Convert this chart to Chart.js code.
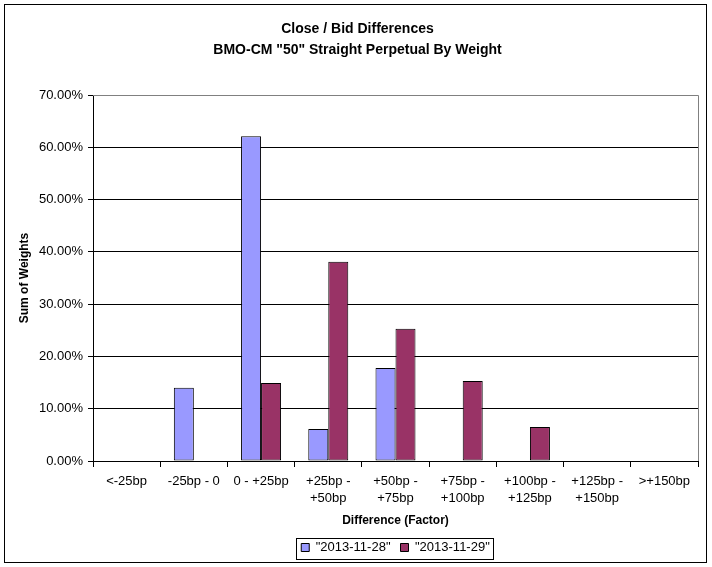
<!DOCTYPE html>
<html>
<head>
<meta charset="utf-8">
<script src="https://cdn.jsdelivr.net/npm/chart.js@4/dist/chart.umd.min.js"></script>
<style>
  html, body { margin: 0; padding: 0; background: #fff; }
  #wrap { width: 712px; height: 567px; }
</style>
</head>
<body>
<div id="wrap"><canvas id="c" width="712" height="567"></canvas></div>
<script>
const categories = [
  ["<-25bp"], ["-25bp - 0"], ["0 - +25bp"], ["+25bp -", "+50bp"], ["+50bp -", "+75bp"],
  ["+75bp -", "+100bp"], ["+100bp -", "+125bp"], ["+125bp -", "+150bp"], [">+150bp"]
];
const seriesNames = ['"2013-11-28"', '"2013-11-29"'];
const values1128 = [0, 14.0, 62.1, 6.1, 17.8, 0, 0, 0, 0];
const values1129 = [0, 0, 14.9, 38.1, 25.3, 15.3, 6.5, 0, 0];
const yTicks = [0, 10, 20, 30, 40, 50, 60, 70];

const FONT = "'Liberation Sans', Arial, sans-serif";

const frame = {
  id: 'frame',
  beforeDraw(chart) {
    const ctx = chart.ctx;
    ctx.save();
    ctx.fillStyle = '#fff';
    ctx.fillRect(0, 0, chart.width, chart.height);
    ctx.restore();
    const lg = chart.legend, a = chart.chartArea;
    if (lg && !lg._shifted) {
      const shift = Math.round((a.left + a.right) / 2 - (lg.left + lg.right) / 2);
      lg.left += shift; lg.right += shift;
      (lg.legendHitBoxes || []).forEach(h => { h.left += shift; });
      lg._shifted = true;
    }
  },
  beforeDatasetsDraw(chart) {
    const a = chart.chartArea, ctx = chart.ctx;
    ctx.save();
    ctx.strokeStyle = '#808080';
    ctx.lineWidth = 1;
    ctx.beginPath();
    ctx.moveTo(a.left, Math.round(a.top) + 0.5);
    ctx.lineTo(Math.round(a.right) + 0.5, Math.round(a.top) + 0.5);
    ctx.lineTo(Math.round(a.right) + 0.5, a.bottom);
    ctx.stroke();
    ctx.restore();
  },
  afterDraw(chart) {
    const ctx = chart.ctx;
    ctx.save();
    ctx.strokeStyle = '#000';
    ctx.lineWidth = 1;
    ctx.strokeRect(4.5, 4.5, 702, 558);
    const lg = chart.legend;
    if (lg && lg.legendHitBoxes && lg.legendHitBoxes.length) {
      let l = Infinity, r = -Infinity;
      lg.legendHitBoxes.forEach(h => { l = Math.min(l, h.left); r = Math.max(r, h.left + h.width); });
      ctx.strokeRect(Math.round(l) - 4.5, 538.5, Math.round(r - l) + 8, 21);
    }
    ctx.restore();
  }
};

new Chart(document.getElementById('c'), {
  type: 'bar',
  data: {
    labels: categories,
    datasets: [
      { label: seriesNames[0], data: values1128, backgroundColor: '#9999FF', borderColor: '#000', borderWidth: 1, borderSkipped: false, barPercentage: 1, categoryPercentage: 0.595 },
      { label: seriesNames[1], data: values1129, backgroundColor: '#993366', borderColor: '#000', borderWidth: 1, borderSkipped: false, barPercentage: 1, categoryPercentage: 0.595 }
    ]
  },
  options: {
    responsive: false,
    animation: false,
    devicePixelRatio: 1,
    layout: { padding: { left: 17, right: 14, top: 0, bottom: 3 } },
    plugins: {
      tooltip: { enabled: false },
      title: {
        display: true,
        text: ['Close / Bid Differences', 'BMO-CM "50" Straight Perpetual By Weight'],
        color: '#000',
        font: { family: FONT, size: 14, weight: 'bold', lineHeight: 1.5 },
        padding: { top: 19, bottom: 34 }
      },
      legend: {
        position: 'bottom',
        labels: {
          color: '#000',
          font: { family: FONT, size: 13 },
          boxWidth: 8,
          boxHeight: 8,
          padding: 10
        }
      }
    },
    scales: {
      x: {
        offset: true,
        afterFit(s) { s.height = 70; },
        grid: { offset: true, drawOnChartArea: false, color: '#000', tickLength: 6, tickColor: '#000' },
        border: { display: true, color: '#000' },
        ticks: { color: '#000', font: { family: FONT, size: 13, lineHeight: 1.3 }, maxRotation: 0, autoSkip: false, padding: 6 },
        title: { display: true, text: 'Difference (Factor)', color: '#000', font: { family: FONT, size: 12, weight: 'bold' }, padding: { top: 4, bottom: 3 } }
      },
      y: {
        min: 0,
        max: 70,
        afterFit(s) { s.width = 76; },
        afterBuildTicks(s) { s.ticks = yTicks.map(v => ({ value: v })); },
        grid: {
          color: c => (c.tick && c.tick.value === 70) ? '#808080' : '#000',
          tickColor: '#000',
          tickLength: 5
        },
        border: { display: true, color: '#000' },
        ticks: { color: '#000', font: { family: FONT, size: 13 }, padding: 5, callback: v => v.toFixed(2) + '%' },
        title: { display: true, text: 'Sum of Weights', color: '#000', font: { family: FONT, size: 12, weight: 'bold' }, padding: { top: 0, bottom: 0 } }
      }
    }
  },
  plugins: [frame]
});
</script>
</body>
</html>
